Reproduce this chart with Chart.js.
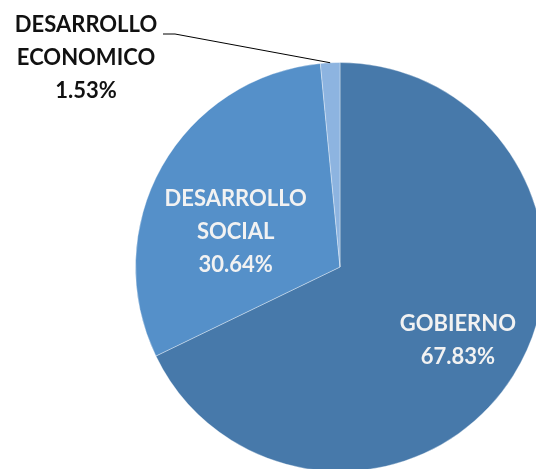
<!DOCTYPE html>
<html>
<head>
<meta charset="utf-8">
<script src="https://cdn.jsdelivr.net/npm/chart.js@4"></script>
<style>
  html, body { margin: 0; padding: 0; background: #fff; }
  #wrap { position: relative; width: 536px; height: 469px; overflow: hidden; }
  #wrap canvas { position: absolute; left: 0; top: 0; }
</style>
</head>
<body>
<div id="wrap"><canvas id="pie" width="680" height="534"></canvas></div>
<script>
// datos
const categories = ['GOBIERNO', 'DESARROLLO SOCIAL', 'DESARROLLO ECONOMICO'];
const values = [67.83, 30.64, 1.53];
const colors = ['#4779AA', '#5590C9', '#8DB4E0'];

// etiquetas: lineas de texto, color, y donde se ponen
const labelCfg = [
    { lines: ['GOBIERNO', '67.83%'], color: '#F2F2F2', frac: 0.68, dx: 0, dy: 0 },
    { lines: ['DESARROLLO', 'SOCIAL', '30.64%'], color: '#F2F2F2', frac: 0.54, dx: -8, dy: 19 },
    { lines: ['DESARROLLO', 'ECONOMICO', '1.53%'], color: '#111', outside: true }
];

const FONT = 'bold 22px Lato, "Open Sans", sans-serif';
const LINE_H = 33;

const labelsPlugin = {
    id: 'pieLabels',
    afterDatasetsDraw(chart) {
        const ctx = chart.ctx;
        const arcs = chart.getDatasetMeta(0).data;
        ctx.save();
        ctx.font = FONT;
        ctx.textAlign = 'center';
        ctx.textBaseline = 'middle';
        arcs.forEach((arc, i) => {
            const cfg = labelCfg[i];
            const mid = (arc.startAngle + arc.endAngle) / 2;
            if (!cfg.outside) {
                const r = arc.outerRadius * cfg.frac;
                const x = arc.x + Math.cos(mid) * r + cfg.dx;
                const y = arc.y + Math.sin(mid) * r + cfg.dy;
                ctx.fillStyle = cfg.color;
                cfg.lines.forEach((t, k) => {
                    ctx.fillText(t, x, y + (k - (cfg.lines.length - 1) / 2) * LINE_H);
                });
            } else {
                // linea guia hasta el borde del sector pequeño
                const ex = arc.x + Math.cos(mid) * arc.outerRadius;
                const ey = arc.y + Math.sin(mid) * arc.outerRadius;
                ctx.strokeStyle = '#000';
                ctx.lineWidth = 1;
                ctx.beginPath();
                ctx.moveTo(ex, ey);
                ctx.lineTo(175, 34);
                ctx.lineTo(163, 34);
                ctx.stroke();
                ctx.fillStyle = cfg.color;
                cfg.lines.forEach((t, k) => {
                    ctx.fillText(t, 86, 25 + k * LINE_H);
                });
            }
        });
        ctx.restore();
    }
};

new Chart(document.getElementById('pie'), {
    type: 'pie',
    data: {
        labels: categories,
        datasets: [{
            data: values,
            backgroundColor: colors,
            borderColor: 'rgba(255,255,255,0.35)',
            borderWidth: 1
        }]
    },
    options: {
        responsive: false,
        animation: false,
        layout: { padding: { top: 62, bottom: 62, left: 0, right: 0 } },
        plugins: {
            legend: { display: false },
            tooltip: { enabled: false }
        }
    },
    plugins: [labelsPlugin]
});
</script>
</body>
</html>
